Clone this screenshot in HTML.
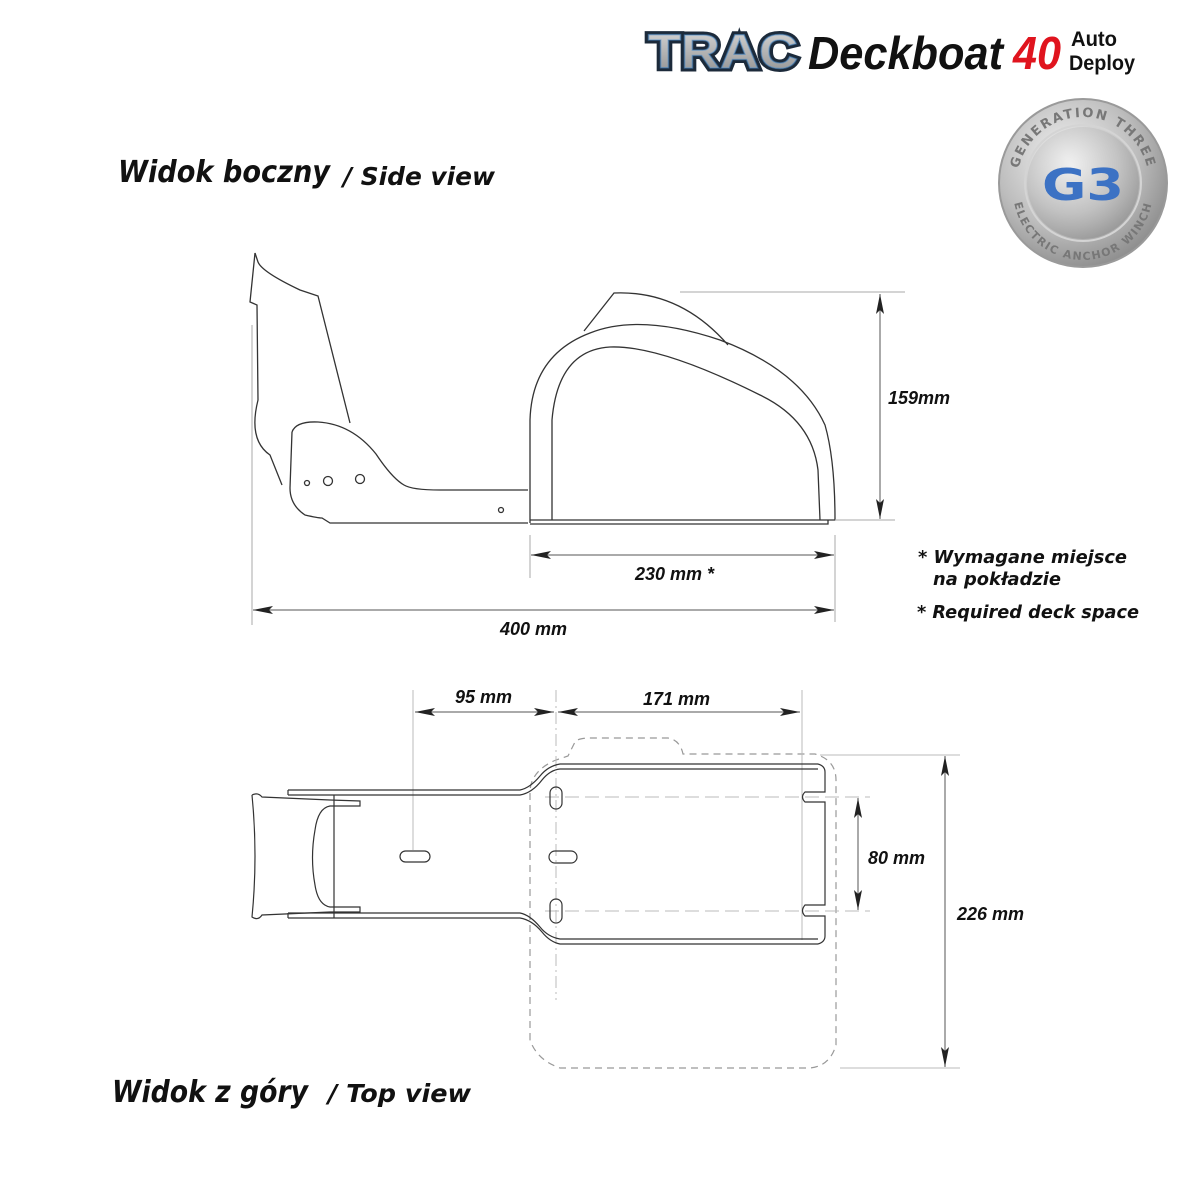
<!DOCTYPE html>
<html><head><meta charset="utf-8"><style>
html,body{margin:0;padding:0;background:#fff;}
svg{display:block}
.t{font-family:"Liberation Sans",sans-serif;font-weight:bold;font-style:italic;fill:#111}
</style></head><body>
<svg width="1200" height="1200" viewBox="0 0 1200 1200" xmlns="http://www.w3.org/2000/svg">
<defs>
<marker id="a" viewBox="0 0 20 8" refX="20" refY="4" markerWidth="20" markerHeight="8" markerUnits="userSpaceOnUse" orient="auto-start-reverse"><path d="M0,0 L20,4 L0,8 L4,4 Z" fill="#222"/></marker>
<radialGradient id="sil" cx="40%" cy="35%" r="70%"><stop offset="0" stop-color="#f2f2f2"/><stop offset="0.6" stop-color="#bdbdbd"/><stop offset="1" stop-color="#8a8a8a"/></radialGradient>
<linearGradient id="tg" x1="0" y1="0" x2="0" y2="1"><stop offset="0" stop-color="#d8d8d8"/><stop offset="1" stop-color="#8d8d8d"/></linearGradient>
</defs>

<!-- Header logo -->
<text x="648" y="68" font-family="Liberation Sans,sans-serif" font-weight="900" font-size="48" fill="url(#tg)" stroke="#1c2a3a" stroke-width="7" paint-order="stroke" transform="translate(648 0) scale(1,1) translate(-648 0)" textLength="150" lengthAdjust="spacingAndGlyphs">TRAC</text>
<text x="648" y="68" font-family="Liberation Sans,sans-serif" font-weight="900" font-size="48" fill="none" stroke="#4a8fd0" stroke-width="1.5" textLength="150" lengthAdjust="spacingAndGlyphs" opacity="0.5">TRAC</text>
<text x="808" y="69" class="t" font-size="46" fill="#000" textLength="195" lengthAdjust="spacingAndGlyphs">Deckboat</text>
<text x="1013" y="69" class="t" font-size="46" style="fill:#e0141e" textLength="48" lengthAdjust="spacingAndGlyphs">40</text>
<text x="1071" y="46" class="t" font-size="21" textLength="46" lengthAdjust="spacingAndGlyphs" style="font-style:normal">Auto</text>
<text x="1069" y="70" class="t" font-size="21" textLength="66" lengthAdjust="spacingAndGlyphs" style="font-style:normal">Deploy</text>

<!-- G3 badge -->
<circle cx="1083" cy="183" r="84" fill="url(#sil)" stroke="#9a9a9a" stroke-width="2"/>
<circle cx="1083" cy="183" r="58" fill="none" stroke="#d4d4d4" stroke-width="2"/>
<circle cx="1083" cy="183" r="56" fill="url(#sil)" opacity="0.6"/>
<path id="arcTop" d="M1017,183 A66,66 0 0 1 1149,183" fill="none"/>
<path id="arcBot" d="M1013,190 A70,70 0 0 0 1153,190" fill="none"/>
<text font-family="DejaVu Sans,sans-serif" font-weight="bold" font-size="13" fill="#777" letter-spacing="2"><textPath href="#arcTop" startOffset="50%" text-anchor="middle">GENERATION THREE</textPath></text>
<text font-family="DejaVu Sans,sans-serif" font-weight="bold" font-size="11" fill="#777" letter-spacing="1.5"><textPath href="#arcBot" startOffset="50%" text-anchor="middle">ELECTRIC ANCHOR WINCH</textPath></text>
<text x="1083" y="200" text-anchor="middle" font-family="DejaVu Sans,sans-serif" font-weight="bold" font-size="44" fill="#3c72c4" textLength="82" lengthAdjust="spacingAndGlyphs">G3</text>

<!-- Titles -->
<text x="118" y="182" class="t" font-size="30" style="font-family:'DejaVu Sans',sans-serif" textLength="212" lengthAdjust="spacingAndGlyphs">Widok boczny</text>
<text x="343" y="185" class="t" font-size="25" style="font-family:'DejaVu Sans',sans-serif" textLength="152" lengthAdjust="spacingAndGlyphs">/ Side view</text>
<text x="112" y="1102" class="t" font-size="30" style="font-family:'DejaVu Sans',sans-serif" textLength="196" lengthAdjust="spacingAndGlyphs">Widok z góry</text>
<text x="328" y="1102" class="t" font-size="25" style="font-family:'DejaVu Sans',sans-serif" textLength="143" lengthAdjust="spacingAndGlyphs">/ Top view</text>

<!-- SIDE VIEW drawing -->
<g fill="none" stroke="#333" stroke-width="1.3">
<path d="M255,253 L258,262 Q262,272 300,290 L318,296 L350,423"/>
<path d="M255,253 L250,302 L257,305 L258,400 Q248,440 270,455 L282,485"/>
<path d="M292,432 Q296,421 318,422 Q352,424 376,454 Q392,478 404,485 Q412,490 440,490 L528,490"/>
<path d="M292,432 L290,488 Q290,505 305,515 Q318,518 322,518 L330,523 L528,523"/>
<path d="M530,523 L530,420 Q532,355 590,333 Q640,313 720,340 Q800,370 825,425 Q835,460 835,520 L530,520"/>
<path d="M552,520 L552,420 Q558,350 610,347 Q660,345 760,395 Q812,420 818,470 L820,520"/>
<path d="M530,524 L828,524 L828,520"/>
<path d="M584,331 L614,293 Q680,290 728,345"/>
<circle cx="307" cy="483" r="2.5"/><circle cx="328" cy="481" r="4.5"/><circle cx="360" cy="479" r="4.5"/><circle cx="501" cy="510" r="2.5"/>
</g>
<!-- side dims -->
<g stroke="#aaa" stroke-width="1">
<line x1="252" y1="325" x2="252" y2="625"/>
<line x1="530" y1="535" x2="530" y2="578"/>
<line x1="835" y1="535" x2="835" y2="622"/>
<line x1="680" y1="292" x2="905" y2="292"/>
<line x1="835" y1="520" x2="895" y2="520"/>
</g>
<g stroke="#555" stroke-width="1">
<line x1="880" y1="294" x2="880" y2="519" marker-start="url(#a)" marker-end="url(#a)"/>
<line x1="531" y1="555" x2="834" y2="555" marker-start="url(#a)" marker-end="url(#a)"/>
<line x1="253" y1="610" x2="834" y2="610" marker-start="url(#a)" marker-end="url(#a)"/>
</g>
<text x="888" y="404" class="t" font-size="18">159mm</text>
<text x="635" y="580" class="t" font-size="18">230 mm *</text>
<text x="500" y="635" class="t" font-size="18">400 mm</text>
<g class="t" font-size="18" style="font-family:'DejaVu Sans',sans-serif">
<text x="918" y="563" textLength="209" lengthAdjust="spacingAndGlyphs">* Wymagane miejsce</text>
<text x="933" y="585" textLength="128" lengthAdjust="spacingAndGlyphs">na pokładzie</text>
<text x="917" y="618" textLength="222" lengthAdjust="spacingAndGlyphs">* Required deck space</text>
</g>

<!-- TOP VIEW -->
<g fill="none" stroke="#999" stroke-width="1.2" stroke-dasharray="7,5">
<path d="M530,1040 L530,790 Q532,770 556,760 L568,756 L575,742 Q578,738 590,738 L668,738 Q680,740 683,754 L815,754 Q836,760 836,780 L836,1045 Q830,1066 810,1068 L560,1068 Q537,1060 530,1040"/>
</g>
<g fill="none" stroke="#bbb" stroke-width="1">
<line x1="413" y1="690" x2="413" y2="850"/>
<line x1="556" y1="690" x2="556" y2="1000" stroke-dasharray="12,4,2,4"/>
<line x1="802" y1="690" x2="802" y2="940"/>
<line x1="545" y1="797" x2="870" y2="797" stroke-dasharray="14,6"/>
<line x1="545" y1="911" x2="870" y2="911" stroke-dasharray="14,6"/>
<line x1="820" y1="755" x2="960" y2="755"/>
<line x1="840" y1="1068" x2="960" y2="1068"/>
</g>
<g fill="none" stroke="#333" stroke-width="1.2">
<path d="M288,790 L520,790 Q530,788 540,776 Q548,766 560,764 L818,764"/>
<path d="M288,795 L520,795 Q532,793 542,780 Q550,770 560,769 L818,769"/>
<path d="M288,913 L520,913 Q530,915 540,927 Q548,937 560,939 L818,939"/>
<path d="M288,918 L520,918 Q532,920 542,932 Q550,942 560,944 L818,944"/>
<path d="M288,790 L288,795 M288,913 L288,918"/>
<path d="M818,764 Q825,766 825,772 L825,792 L805,792 Q800,797 805,802 L825,802 L825,905 L805,905 Q800,911 805,916 L825,916 L825,936 Q825,942 818,944"/>
<path d="M252,795 Q258,792 262,797 L330,800 L360,801 L360,806 L330,806 Q318,808 315,830 Q310,858 315,885 Q318,905 330,907 L360,907 L360,912 L330,912 L262,915 Q258,921 252,917 Q258,856 252,795"/>
<line x1="334" y1="795" x2="334" y2="918"/>
<rect x="400" y="851" width="30" height="11" rx="5.5"/>
<rect x="550" y="787" width="12" height="22" rx="6"/>
<rect x="549" y="851" width="28" height="12" rx="6"/>
<rect x="550" y="899" width="12" height="24" rx="6"/>
</g>
<g stroke="#555" stroke-width="1">
<line x1="415" y1="712" x2="554" y2="712" marker-start="url(#a)" marker-end="url(#a)"/>
<line x1="558" y1="712" x2="800" y2="712" marker-start="url(#a)" marker-end="url(#a)"/>
<line x1="858" y1="798" x2="858" y2="910" marker-start="url(#a)" marker-end="url(#a)"/>
<line x1="945" y1="756" x2="945" y2="1067" marker-start="url(#a)" marker-end="url(#a)"/>
</g>
<text x="455" y="703" class="t" font-size="18">95 mm</text>
<text x="643" y="705" class="t" font-size="18">171 mm</text>
<text x="868" y="864" class="t" font-size="18">80 mm</text>
<text x="957" y="920" class="t" font-size="18">226 mm</text>
</svg>
</body></html>
